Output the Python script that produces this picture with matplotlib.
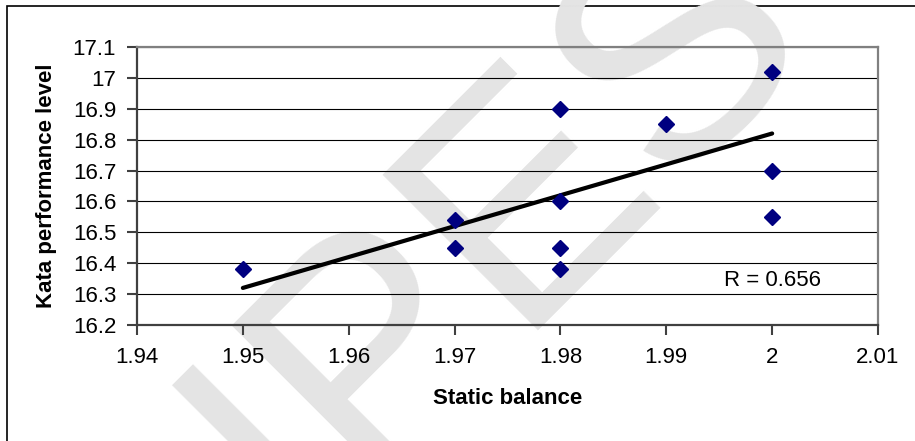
import matplotlib
matplotlib.use("Agg")
import matplotlib.pyplot as plt
from matplotlib.patches import Rectangle
from matplotlib.ticker import FuncFormatter

plt.rcParams['font.family'] = ['Liberation Sans', 'DejaVu Sans']

# data
static_balance = [1.95, 1.97, 1.97, 1.98, 1.98, 1.98, 1.98, 1.99, 2.00, 2.00, 2.00]
kata_level = [16.38, 16.54, 16.45, 16.90, 16.60, 16.45, 16.38, 16.85, 17.02, 16.70, 16.55]
trend_x = [1.95, 2.00]
trend_y = [16.32, 16.82]
x_ticks = [1.94, 1.95, 1.96, 1.97, 1.98, 1.99, 2.00, 2.01]
y_ticks = [16.2, 16.3, 16.4, 16.5, 16.6, 16.7, 16.8, 16.9, 17.0, 17.1]
r_text = "R = 0.656"

W, H = 915, 441
fig = plt.figure(figsize=(W / 100, H / 100), dpi=100)
ax = fig.add_axes([137 / W, 1 - 325 / H, (878 - 137) / W, (325 - 47) / H])
ax.set_facecolor('none')

# outer chart border (only left and top visible)
fig.patches.append(Rectangle((7 / W, -0.1), 1.2, 1 - 6 / H + 0.1, transform=fig.transFigure,
                             fill=False, edgecolor='black', linewidth=1.2, zorder=-2))

# watermark
fig.text(298 / W, 1 - 541 / H, "IPES", fontsize=230, color='#e4e4e4', rotation=45,
         ha='left', va='baseline', rotation_mode='anchor', zorder=-1)

for yv in y_ticks:
    ax.axhline(yv, color='black', linewidth=0.8, zorder=1)

ax.plot(trend_x, trend_y, color='black', linewidth=3, solid_capstyle='round', zorder=3)
ax.plot(static_balance, kata_level, linestyle='none', marker='D', markersize=8,
        color='#000080', zorder=4)

ax.text(2.0, 16.345, r_text, fontsize=16, ha='center', va='center')

ax.set_xlim(1.94, 2.01)
ax.set_ylim(16.2, 17.1)
ax.set_xticks(x_ticks)
ax.set_yticks(y_ticks)
fmt = FuncFormatter(lambda v, p: "%g" % round(v, 2))
ax.xaxis.set_major_formatter(fmt)
ax.yaxis.set_major_formatter(fmt)
ax.tick_params(axis='x', direction='out', length=7, width=1.5, pad=9, labelsize=16, color='#404040')
ax.tick_params(axis='y', direction='out', length=7, width=1.5, pad=8, labelsize=16, color='#404040')

for s in ['left', 'bottom']:
    ax.spines[s].set_color('#404040')
    ax.spines[s].set_linewidth(1.6)
for s in ['top', 'right']:
    ax.spines[s].set_color('#808080')
    ax.spines[s].set_linewidth(1.6)

ax.set_xlabel("Static balance", fontsize=16, fontweight='bold', va='center')
ax.set_ylabel("Kata performance level", fontsize=16, fontweight='bold', va='center')
ax.xaxis.set_label_coords(0.5, (325 - 399) / 278)
ax.yaxis.set_label_coords((47 - 137) / 741, 0.5)

fig.savefig("out.png", dpi=100)
